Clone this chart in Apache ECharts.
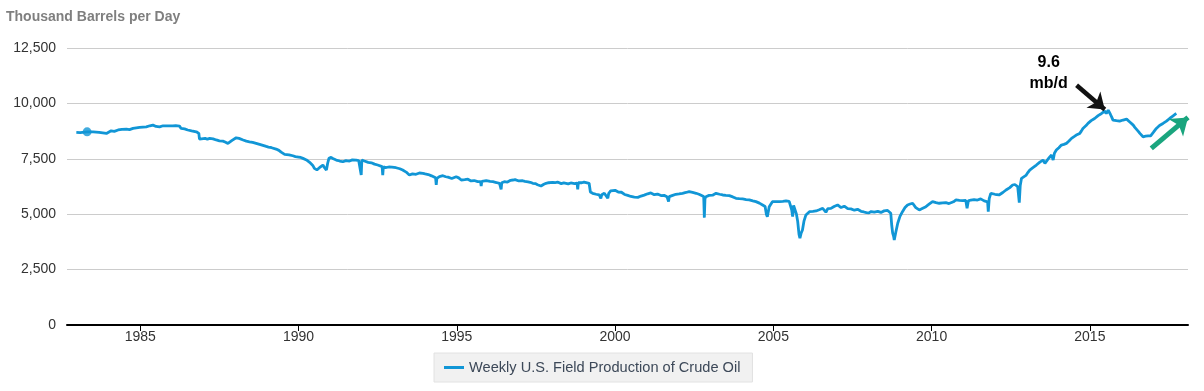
<!DOCTYPE html>
<html>
<head>
<meta charset="utf-8">
<script src="https://cdn.jsdelivr.net/npm/echarts@6/dist/echarts.min.js"></script>
<style>
html,body{margin:0;padding:0;background:#fff;}
#chart{width:1204px;height:391px;}
</style>
</head>
<body>
<div id="chart"></div>
<script>
// ---- data (decimal year, thousand barrels per day) ----
const weekYears = [
1982.98,1983.10,1983.32,1983.51,1983.70,1983.93,1984.08,1984.30,1984.56,1984.77,1984.98,
1985.19,1985.40,1985.50,1985.61,1985.82,1986.03,1986.24,1986.29,1986.50,1986.77,1986.85,1986.87,
1987.05,1987.19,1987.40,1987.61,1987.77,1987.90,1988.03,1988.25,1988.45,1988.66,1988.77,1988.98,
1989.15,1989.29,1989.45,1989.56,1989.70,1989.82,1990.00,1990.14,1990.25,1990.35,1990.45,1990.50,
1990.58,1990.66,1990.77,1990.82,1990.88,1990.92,1990.96,1991.03,1991.10,1991.19,1991.30,1991.40,
1991.50,1991.61,1991.70,1991.82,1991.96,1991.98,1992.00,1992.14,1992.25,1992.35,1992.45,1992.56,
1992.64,1992.66,1992.68,1992.85,1993.08,1993.20,1993.29,1993.40,1993.50,1993.60,1993.71,1993.82,
1993.93,1994.05,1994.13,1994.25,1994.33,1994.35,1994.37,1994.56,1994.65,1994.77,1994.90,1994.98,
1995.06,1995.14,1995.20,1995.29,1995.40,1995.51,1995.60,1995.71,1995.75,1995.77,1995.79,1995.93,
1996.05,1996.14,1996.25,1996.35,1996.39,1996.40,1996.42,1996.50,1996.65,1996.77,1996.90,1997.08,
1997.25,1997.40,1997.55,1997.66,1997.75,1997.82,1998.03,1998.24,1998.45,1998.66,1998.80,1998.82,
1998.84,1998.87,1999.08,1999.18,1999.22,1999.29,1999.40,1999.50,1999.55,1999.58,1999.66,1999.77,
1999.80,1999.92,2000.05,2000.14,2000.25,2000.35,2000.45,2000.56,2000.66,2000.77,2000.87,2000.98,
2001.08,2001.18,2001.29,2001.40,2001.50,2001.60,2001.68,2001.69,2001.71,2001.82,2001.92,2002.02,
2002.13,2002.24,2002.34,2002.45,2002.56,2002.65,2002.71,2002.80,2002.82,2002.84,2002.87,2003.03,
2003.19,2003.30,2003.40,2003.50,2003.61,2003.72,2003.82,2003.92,2004.03,2004.14,2004.24,2004.35,
2004.45,2004.56,2004.66,2004.74,2004.78,2004.81,2004.87,2004.97,2005.08,2005.19,2005.30,2005.40,
2005.50,2005.56,2005.58,2005.61,2005.64,2005.69,2005.73,2005.77,2005.81,2005.84,2005.88,2005.92,
2005.97,2006.03,2006.14,2006.25,2006.35,2006.45,2006.56,2006.62,2006.66,2006.72,2006.77,2006.87,
2006.98,2007.03,2007.19,2007.30,2007.40,2007.50,2007.61,2007.72,2007.82,2007.90,2007.98,2008.05,
2008.13,2008.25,2008.34,2008.45,2008.56,2008.66,2008.71,2008.74,2008.77,2008.80,2008.82,2008.87,
2008.93,2009.00,2009.08,2009.16,2009.24,2009.32,2009.40,2009.50,2009.61,2009.72,2009.82,2009.92,
2010.03,2010.14,2010.24,2010.35,2010.45,2010.55,2010.61,2010.69,2010.77,2010.88,2010.98,2011.08,
2011.12,2011.16,2011.18,2011.34,2011.50,2011.60,2011.71,2011.77,2011.79,2011.82,2011.87,2012.00,
2012.13,2012.25,2012.35,2012.47,2012.56,2012.63,2012.66,2012.72,2012.77,2012.80,2012.84,2012.98,
2013.10,2013.20,2013.31,2013.42,2013.52,2013.58,2013.66,2013.79,2013.84,2013.88,2013.94,2014.02,
2014.10,2014.18,2014.26,2014.34,2014.42,2014.50,2014.57,2014.63,2014.68,2014.78,2014.88,2014.99,
2015.10,2015.21,2015.30,2015.37,2015.47,2015.52,2015.58,2015.65,2015.73,2015.84,2015.94,2016.05,
2016.16,2016.27,2016.37,2016.48,2016.58,2016.68,2016.76,2016.84,2016.92,2017.01,2017.10,2017.20,
2017.31,2017.42,2017.52,2017.62,2017.73
];
const weeklyProduction = [
8690,8680,8718,8718,8690,8646,8763,8800,8840,8871,8916,
8943,9020,8960,8943,8988,8988,8975,8871,8800,8718,8646,8389,
8420,8421,8350,8299,8195,8330,8448,8350,8268,8196,8151,8060,
8000,7939,7800,7700,7680,7637,7580,7520,7450,7340,7200,7070,
7000,7097,7218,7100,6993,7300,7520,7565,7500,7443,7400,7367,
7420,7398,7450,7443,7400,6768,7443,7367,7330,7295,7250,7187,
7150,6768,7142,7130,7097,7050,6993,6900,6768,6820,6800,6860,
6845,6800,6768,6700,6640,6318,6620,6737,6690,6646,6640,6692,
6640,6543,6600,6574,6540,6511,6490,6466,6470,6273,6480,6511,
6480,6466,6430,6394,6400,6124,6420,6466,6500,6543,6520,6511,
6460,6394,6330,6273,6350,6394,6439,6394,6394,6394,6400,6124,
6420,6439,6439,6394,6000,5944,5900,5867,5719,5880,5944,5719,
5944,6124,6050,6016,5940,5867,5820,5791,5750,5791,5836,5900,
5944,5920,5899,5870,5836,5810,5800,5566,5791,5850,5899,5920,
5944,5980,6016,5980,5944,5900,5867,5800,4845,5700,5791,5836,
5944,5900,5867,5850,5836,5780,5719,5700,5687,5660,5642,5600,
5566,5500,5417,5350,5000,4890,5341,5566,5570,5566,5580,5597,
5580,5566,5200,4890,5400,5341,5000,4665,4100,3918,4150,4291,
4700,4967,5115,5130,5146,5200,5268,5230,5088,5250,5295,5300,
5386,5417,5341,5280,5223,5210,5192,5150,5115,5080,5043,5080,
5115,5100,5115,5140,5160,5192,5043,4500,4143,4000,3841,4200,
4593,4900,5115,5300,5417,5460,5494,5300,5192,5270,5341,5450,
5566,5520,5494,5510,5521,5480,5417,5560,5642,5620,5611,5620,
5268,5600,5642,5660,5674,5620,5566,5560,5115,5700,5944,5900,
5867,5980,6092,6200,6318,6340,6394,6241,5521,6300,6619,6750,
6993,7100,7218,7350,7443,7295,7450,7669,7443,7750,7894,8000,
8119,8150,8196,8300,8421,8500,8570,8600,8646,8871,9000,9168,
9280,9393,9480,9547,9650,9547,9695,9500,9245,9220,9200,9250,
9290,9150,9020,8830,8646,8493,8520,8538,8540,8700,8871,9000,
9096,9200,9321,9430,9547
];
// extra weekly readings between the points above (week-to-week wiggle)
const detailYears = [
1984.18,1984.42,1984.66,1985.30,1985.72,1986.12,1986.40,1986.62,1987.12,1987.30,1987.50,1987.68,
1988.12,1988.35,1988.55,1989.05,1989.38,1989.62,1989.90,1990.07,1990.20,1991.15,1991.25,1991.35,
1991.45,1991.55,1991.66,1991.76,1991.90,1992.08,1992.20,1992.30,1992.40,1992.50,1992.75,1992.95,
1993.14,1993.35,1993.45,1993.55,1993.66,1993.77,1993.88,1994.00,1994.10,1994.20,1994.45,1994.50,
1994.60,1994.72,1994.84,1995.10,1995.25,1995.35,1995.45,1995.55,1995.66,1995.85,1995.98,1996.10,
1996.20,1996.30,1996.55,1996.60,1996.70,1996.84,1996.96,1997.02,1997.15,1997.32,1997.48,1997.60,
1997.70,1997.90,1997.96,1998.10,1998.18,1998.30,1998.38,1998.52,1998.60,1998.72,1998.95,1999.02,
1999.35,1999.45,1999.62,1999.86,2000.00,2000.10,2000.20,2000.30,2000.40,2000.50,2000.61,2000.72,
2000.82,2000.92,2001.03,2001.13,2001.24,2001.34,2001.45,2001.55,2001.64,2001.76,2001.87,2001.97,
2002.08,2002.18,2002.29,2002.40,2002.50,2002.60,2002.92,2002.97,2003.08,2003.14,2003.24,2003.35,
2003.45,2003.55,2003.66,2003.77,2003.87,2003.98,2004.08,2004.19,2004.30,2004.40,2004.50,2004.61,
2005.02,2005.13,2005.24,2005.35,2005.45,2006.08,2006.20,2006.30,2006.40,2006.50,2006.82,2006.92,
2007.08,2007.14,2007.24,2007.35,2007.45,2007.56,2007.66,2007.77,2007.86,2007.94,2008.02,2008.09,
2008.19,2008.30,2008.40,2008.50,2008.61,2009.45,2009.55,2009.66,2009.77,2009.87,2009.97,2010.08,
2010.19,2010.29,2010.40,2010.50,2010.73,2010.83,2010.93,2011.03,2011.24,2011.29,2011.40,2011.45,
2011.55,2011.66,2011.93,2012.06,2012.19,2012.30,2012.41,2012.51,2012.90,2013.04,2013.15,2013.25,
2013.36,2013.47,2013.62,2013.72,2013.98,2014.06,2014.14,2014.22,2014.30,2014.38,2014.46,2014.54,
2014.73,2014.83,2014.94,2015.04,2015.15,2015.26,2015.42,2015.69,2015.78,2015.89,2016.00,2016.10,
2016.21,2016.32,2016.42,2016.53,2016.63,2016.72,2016.80,2016.88,2016.96,2017.05,2017.15,2017.25,
2017.36,2017.47,2017.57,2017.67
];
const detailProduction = [
8740,8830,8820,8990,8990,9000,8850,8760,8380,8400,8310,8260,
8420,8300,8240,8030,7880,7720,7600,7560,7480,7480,7430,7400,
7380,7440,7380,7470,7420,7400,7340,7320,7260,7220,7100,7120,
7060,6950,6820,6790,6830,6780,6870,6820,6790,6730,6700,6760,
6700,6670,6610,6600,6560,6580,6500,6520,6470,6490,6530,6450,
6470,6400,6490,6450,6530,6560,6500,6530,6480,6440,6380,6300,
6320,6420,6400,6420,6450,6380,6410,6370,6410,6380,6420,6450,
5920,5880,5920,6050,6080,6000,5990,5890,5850,5800,5770,5760,
5820,5860,5920,5960,5880,5910,5840,5850,5790,5830,5870,5930,
5910,5970,5990,6030,5960,5930,5810,5850,5860,5900,5960,5880,
5890,5830,5850,5740,5730,5700,5670,5680,5620,5610,5530,5480,
5540,5590,5550,5610,5570,5050,5100,5160,5120,5230,5260,5350,
5380,5300,5360,5250,5240,5180,5220,5130,5100,5070,5060,5120,
5090,5130,5080,5150,5170,5420,5250,5210,5300,5380,5500,5540,
5510,5480,5530,5500,5600,5650,5600,5640,5640,5610,5670,5640,
5690,5600,5920,5870,5900,6000,6150,6260,6700,6880,7050,7150,
7280,7380,7380,7560,7950,8080,8100,8180,8240,8370,8450,8520,
8750,8950,9100,9220,9320,9450,9600,9380,9260,9180,9230,9280,
9260,9100,8920,8740,8560,8470,8560,8510,8600,8780,8940,9050,
9140,9260,9380,9470
];
const seriesName = 'Weekly U.S. Field Production of Crude Oil';
const xTickYears = [1985, 1990, 1995, 2000, 2005, 2010, 2015];
const startMarker = [1983.32, 8718];
const peakLabel = { text: '9.6\nmb/d', at: [2013.70, 11361] };
const blackArrow = [[2014.58, 10821], [2015.47, 9726]];
const greenArrow = [[2016.94, 7970], [2018.10, 9366]];

// ---- chart ----
const lineData = weekYears.map((y, i) => [y, weeklyProduction[i]])
  .concat(detailYears.map((y, i) => [y, detailProduction[i]]))
  .sort((a, b) => a[0] - b[0]);
const chart = echarts.init(document.getElementById('chart'), null, { renderer: 'canvas' });
const FONT = "'Liberation Sans', Arial, sans-serif";
chart.setOption({
  animation: false,
  textStyle: { fontFamily: FONT },
  title: {
    text: 'Thousand Barrels per Day',
    left: 6, top: 10, padding: 0,
    textStyle: { fontFamily: FONT, fontSize: 14, fontWeight: 'bold', color: '#7f7f7f' }
  },
  grid: { left: 67, right: 16, top: 48, bottom: 66, containLabel: false },
  legend: {
    data: [{ name: seriesName, icon: 'path://M0,0H20V3H0Z' }],
    left: 434, top: 353,
    padding: [7, 12, 7, 10],
    backgroundColor: '#f1f1f1',
    borderColor: '#e2e2e2', borderWidth: 1,
    itemWidth: 20, itemHeight: 3, itemGap: 8,
    itemStyle: { color: '#1196d6' },
    textStyle: { fontFamily: FONT, fontSize: 14.6, color: '#3c4858' }
  },
  xAxis: {
    type: 'value',
    min: 1982.685, max: 2018.10,
    axisLine: { show: true, lineStyle: { color: '#000', width: 2 } },
    axisTick: { show: true, length: 6, lineStyle: { color: '#000', width: 1 }, customValues: xTickYears },
    axisLabel: { customValues: xTickYears, fontSize: 14, color: '#333', margin: 5, formatter: v => String(Math.round(v)) },
    splitLine: { show: false }
  },
  yAxis: {
    type: 'value',
    min: 0, max: 12500, interval: 2500,
    axisLine: { show: false },
    axisTick: { show: false },
    axisLabel: { fontSize: 14, color: '#333', margin: 11, formatter: v => v.toLocaleString('en-US') },
    splitLine: { lineStyle: { color: '#cccccc', width: 1 } }
  },
  series: [
    {
      name: seriesName,
      type: 'line',
      data: lineData,
      symbol: 'none',
      clip: false,
      lineStyle: { color: '#1196d6', width: 2.8 },
      itemStyle: { color: '#1196d6' },
      z: 3,
      markLine: {
        silent: true,
        symbol: ['none', 'arrow'],
        label: { show: false },
        emphasis: { disabled: true },
        data: [
          [
            { coord: blackArrow[0], symbol: 'none', lineStyle: { color: '#111', width: 4.5, type: 'solid' } },
            { coord: blackArrow[1], symbol: 'arrow', symbolSize: [16, 15] }
          ],
          [
            { coord: greenArrow[0], symbol: 'none', lineStyle: { color: '#1aa57e', width: 5, type: 'solid' } },
            { coord: greenArrow[1], symbol: 'arrow', symbolSize: [17, 16] }
          ]
        ]
      },
      markPoint: {
        silent: true,
        data: [{
          coord: peakLabel.at,
          symbol: 'rect', symbolSize: 1,
          itemStyle: { color: 'rgba(0,0,0,0)' },
          label: {
            show: true, position: 'inside', formatter: peakLabel.text,
            fontFamily: FONT, fontSize: 16, fontWeight: 'bold', color: '#000', lineHeight: 21
          }
        }]
      }
    },
    {
      name: 'start',
      type: 'scatter',
      data: [startMarker],
      symbol: 'circle', symbolSize: 9,
      itemStyle: { color: '#1196d6' },
      silent: true,
      z: 4
    }
  ]
});
</script>
</body>
</html>
